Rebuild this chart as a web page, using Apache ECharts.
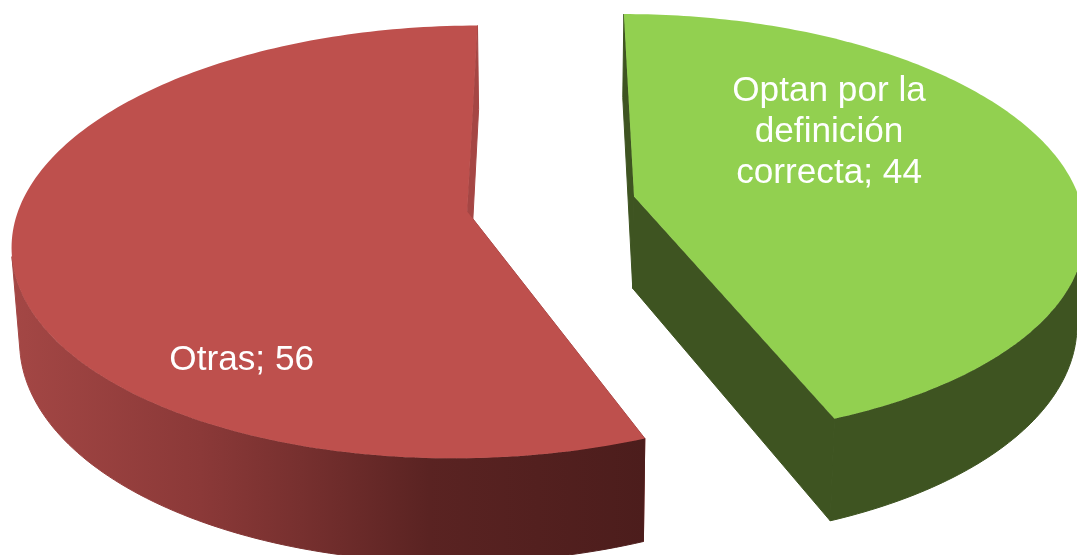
<!DOCTYPE html>
<html>
<head>
<meta charset="utf-8">
<style>html,body{margin:0;padding:0;background:#fff}#chart{width:1077px;height:555px}</style>
<script src="https://cdn.jsdelivr.net/npm/echarts@6/dist/echarts.min.js"></script>
</head>
<body>
<div id="chart"></div>
<script>
// Exploded 3D pie with perspective, built from a custom series.
const categories = ['Optan por la\ndefinición\ncorrecta', 'Otras'];
const values = [44, 56];
const topColors = ['#92D050', '#BE504D'];
const cutColors = ['#3E5421', '#A54644'];
const labelAngles = [55.5, 214.6];
const labelRadii = [0.566, 0.775];

// Projection of the pie's plane onto the page.
const view = {
  cx: 551, cy: 204, rx: 447, ry: 210,
  perspective: 0.14, explode: 0.19,
  depth: 93.6, bottomScale: 0.985,
  // The outer wall shows only from this point of the circle towards the viewer.
  wallFrom: 0.2
};
const total = values.reduce((a, b) => a + b, 0);

function project(X, Y, bottom) {
  const f = 1 / (1 - view.perspective * Y);
  const g = bottom ? view.bottomScale : 1;
  const d = bottom ? view.depth : 0;
  return [
    view.cx + view.rx * X * f * g,
    view.cy + (view.ry * Y + d) * f * g
  ];
}
const dir = deg => {
  const a = deg * Math.PI / 180;
  return [Math.sin(a), -Math.cos(a)];
};

function rimColor(i) {
  if (i === 0) return cutColors[0];
  return new echarts.graphic.LinearGradient(10, 0, 645, 0, [
    { offset: 0, color: '#A44745' },
    { offset: 0.3, color: '#8B3938' },
    { offset: 0.457, color: '#77302F' },
    { offset: 0.66, color: '#5A2322' },
    { offset: 1, color: '#4C1D1C' }
  ], true);
}

function renderSlice(params, api) {
  const i = params.dataIndex;
  const start = values.slice(0, i).reduce((a, b) => a + b, 0) / total * 360;
  const sweep = api.value(0) / total * 360;
  const mid = dir(start + sweep / 2);
  const ox = mid[0] * view.explode, oy = mid[1] * view.explode;

  const steps = 180;
  const unit = [];
  for (let k = 0; k <= steps; k++) unit.push(dir(start + sweep * k / steps));
  const topArc = unit.map(d => project(ox + d[0], oy + d[1], false));
  const lowArc = unit.map(d => project(ox + d[0], oy + d[1], true));
  const apexTop = project(ox, oy, false), apexLow = project(ox, oy, true);

  const poly = (points, fill, seal) => ({
    type: 'polygon',
    shape: { points },
    style: seal ? { fill, stroke: fill, lineWidth: 1 } : { fill, stroke: null },
    silent: true
  });
  const lab = dir(labelAngles[i]);
  const labPos = project(ox + lab[0] * labelRadii[i], oy + lab[1] * labelRadii[i], false);

  // Outer wall: upper rim forward, lower rim back, over the near part of the arc.
  const near = unit.map((d, k) => k).filter(k => unit[k][1] >= view.wallFrom);
  const wall = near.map(k => topArc[k]).concat(near.slice().reverse().map(k => lowArc[k]));

  return {
    type: 'group',
    children: [
      poly([apexTop, topArc[0], lowArc[0], apexLow], cutColors[i], true),
      poly([apexTop, topArc[steps], lowArc[steps], apexLow], cutColors[i], true),
      poly(wall, rimColor(i), true),
      poly([apexTop].concat(topArc), topColors[i]),
      {
        type: 'text',
        silent: true,
        style: {
          text: categories[i] + '; ' + api.value(0),
          x: labPos[0], y: labPos[1],
          fill: '#fff',
          fontFamily: '"Liberation Sans", Arial, sans-serif',
          fontSize: 35.2,
          lineHeight: 41,
          align: 'center',
          verticalAlign: 'middle'
        }
      }
    ]
  };
}

const chart = echarts.init(document.getElementById('chart'), null, { renderer: 'canvas' });
chart.setOption({
  animation: false,
  backgroundColor: '#fff',
  series: [{
    type: 'custom',
    coordinateSystem: 'none',
    renderItem: renderSlice,
    clip: false,
    data: values.map((v, i) => ({ name: categories[i], value: [v] }))
  }]
});
</script>
</body>
</html>
